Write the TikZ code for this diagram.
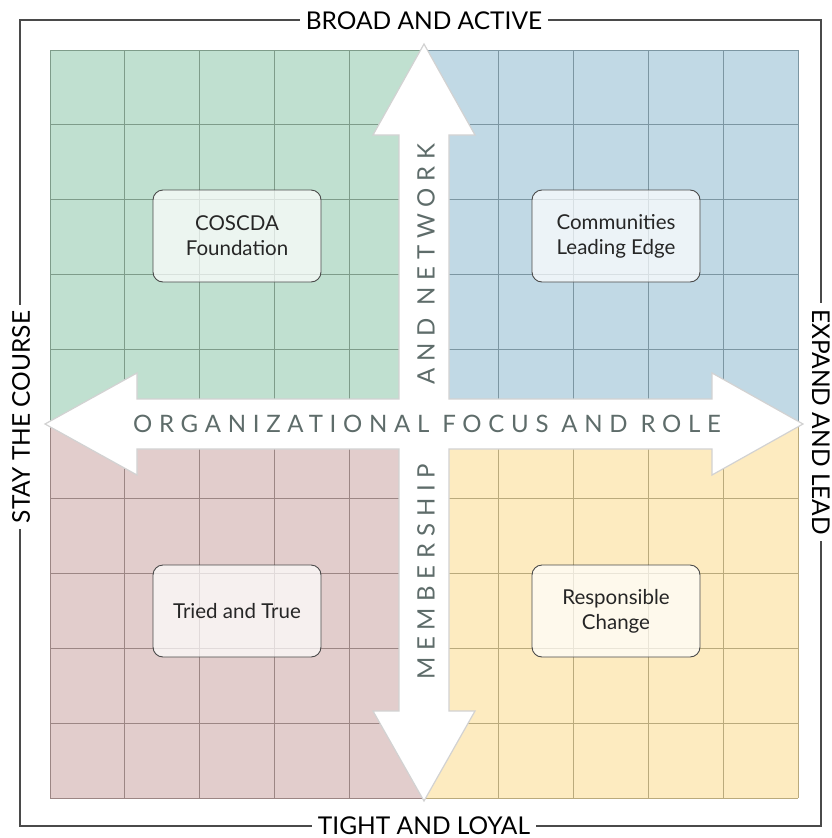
\documentclass[tikz,border=0pt]{standalone}
\usepackage{fontspec}
\setmainfont{Lato}
\usetikzlibrary{calc}
\definecolor{gfill}{HTML}{C0E0D0}
\definecolor{gline}{HTML}{7E9C8A}
\definecolor{bfill}{HTML}{C1D9E5}
\definecolor{bline}{HTML}{7C96A2}
\definecolor{pfill}{HTML}{E2CDCC}
\definecolor{pline}{HTML}{9C8684}
\definecolor{yfill}{HTML}{FDEBC0}
\definecolor{yline}{HTML}{BAAA7C}
\definecolor{framec}{HTML}{4A4A4A}
\definecolor{arrowc}{HTML}{D2D2D2}
\definecolor{axistext}{HTML}{5E6C6A}
\tikzset{
  edgelabel/.style={fill=white,inner xsep=6pt,inner ysep=2pt,font=\fontsize{24.5}{26}\selectfont,text=black},
  quadbox/.style={draw=framec,line width=0.9pt,rounded corners=10pt,fill=white,fill opacity=0.7,text opacity=1,
    minimum width=168pt,minimum height=92pt,align=center,font=\fontsize{20.5}{25}\selectfont,text=black!85},
  axislabel/.style={font=\fontsize{24}{26}\selectfont\addfontfeature{LetterSpace=28},text=axistext,inner sep=0pt},
}
\newcommand{\quadgrid}[3]{% x0, y0, colour
  \foreach \k in {0,...,5} {
    \draw[#3,line width=1pt] ({#1+74.8*\k},#2) -- ({#1+74.8*\k},{#2+374});
    \draw[#3,line width=1pt] (#1,{#2+74.8*\k}) -- ({#1+374},{#2+74.8*\k});
  }}
\begin{document}
\begin{tikzpicture}[x=1pt,y=-1pt]
\useasboundingbox (0,0) rectangle (831,838);
% quadrants
\fill[gfill] (50,50) rectangle (424,424);
\fill[bfill] (424,50) rectangle (798,424);
\fill[pfill] (50,424) rectangle (424,798);
\fill[yfill] (424,424) rectangle (798,798);
\quadgrid{50}{50}{gline}
\quadgrid{424}{50}{bline}
\quadgrid{50}{424}{pline}
\quadgrid{424}{424}{yline}
% outer frame
\draw[framec,line width=1.3pt] (20,20) rectangle (821,826);
% cross arrows
\draw[arrowc,fill=white,line width=1.2pt,line join=miter]
  (424,44) -- (475,135) -- (449,135) -- (449,399) -- (712,399) -- (712,373) -- (803,424)
  -- (712,475) -- (712,449) -- (449,449) -- (449,711) -- (475,711) -- (424,801)
  -- (373,711) -- (399,711) -- (399,449) -- (137,449) -- (137,475) -- (45,424)
  -- (137,373) -- (137,399) -- (399,399) -- (399,135) -- (373,135) -- cycle;
% axis texts
\node[axislabel] (focus) at (427,424) {ORGANIZATIONAL FOCUS AND ROLE};
\node[axislabel,rotate=90] (network) at (426,264) {AND NETWORK};
\node[axislabel,rotate=90] (member) at (426,572) {MEMBERSHIP};
% edge labels
\node[edgelabel] (top) at (424,21) {BROAD AND ACTIVE};
\node[edgelabel] (bottom) at (424,826) {TIGHT AND LOYAL};
\node[edgelabel,rotate=90] (left) at (21,417) {STAY THE COURSE};
\node[edgelabel,rotate=-90] (right) at (821,422) {EXPAND AND LEAD};
% quadrant boxes
\node[quadbox] (coscda) at (237,236) {COSCDA\\Foundation};
\node[quadbox] (comm) at (616,236) {Communities\\Leading Edge};
\node[quadbox] (tried) at (237,611) {Tried and True};
\node[quadbox] (resp) at (616,611) {Responsible\\Change};
\end{tikzpicture}
\end{document}
